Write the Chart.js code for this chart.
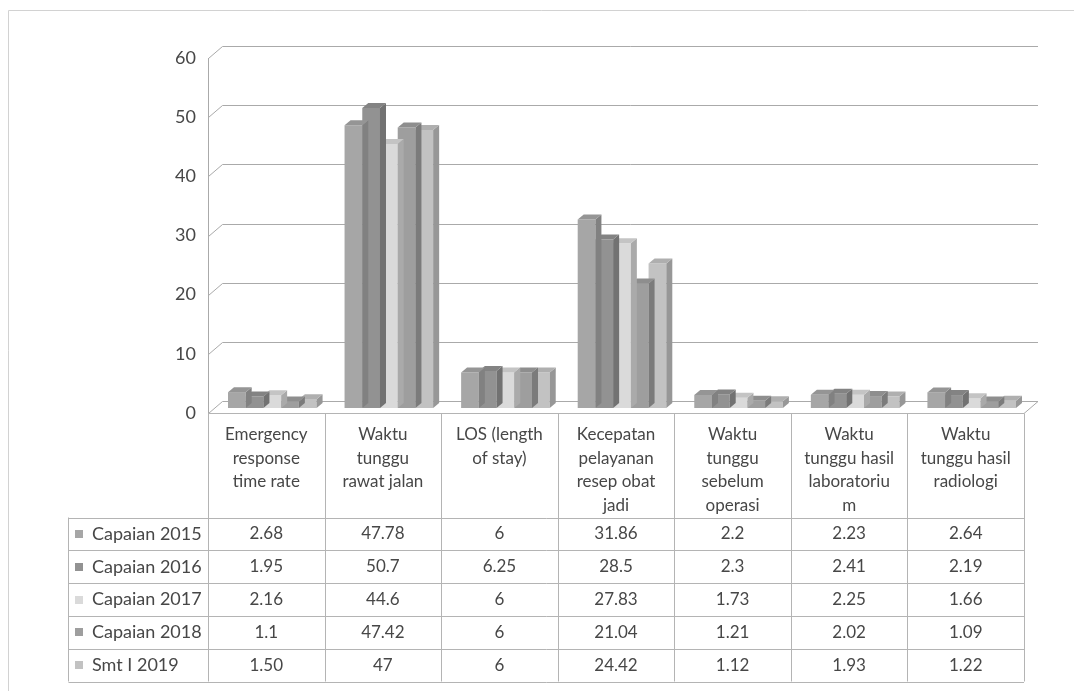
<!DOCTYPE html>
<html>
<head>
<meta charset="utf-8">
<script src="https://cdn.jsdelivr.net/npm/chart.js@4.4.1/dist/chart.umd.min.js"></script>
<style>
  html, body { margin: 0; padding: 0; background: #fff; }
  #wrap { width: 1074px; height: 691px; }
</style>
</head>
<body>
<div id="wrap"><canvas id="waktuChart" width="1074" height="691"></canvas></div>
<script>
// indikator waktu tunggu, per tahun
const categories = [
  ['Emergency', 'response', 'time rate'],
  ['Waktu', 'tunggu', 'rawat jalan'],
  ['LOS (length', 'of stay)'],
  ['Kecepatan', 'pelayanan', 'resep obat', 'jadi'],
  ['Waktu', 'tunggu', 'sebelum', 'operasi'],
  ['Waktu', 'tunggu hasil', 'laboratoriu', 'm'],
  ['Waktu', 'tunggu hasil', 'radiologi']
];
const seriesNames = ['Capaian 2015', 'Capaian 2016', 'Capaian 2017', 'Capaian 2018', 'Smt I 2019'];
const capaian2015 = ['2.68', '47.78', '6', '31.86', '2.2', '2.23', '2.64'];
const capaian2016 = ['1.95', '50.7', '6.25', '28.5', '2.3', '2.41', '2.19'];
const capaian2017 = ['2.16', '44.6', '6', '27.83', '1.73', '2.25', '1.66'];
const capaian2018 = ['1.1', '47.42', '6', '21.04', '1.21', '2.02', '1.09'];
const smt2019 = ['1.50', '47', '6', '24.42', '1.12', '1.93', '1.22'];
const yTicks = [0, 10, 20, 30, 40, 50, 60];

const seriesValues = [capaian2015, capaian2016, capaian2017, capaian2018, smt2019];
const seriesColors = ['#a6a6a6', '#929292', '#dadada', '#9e9e9e', '#c2c2c2'];

const FONT = 'Lato, "Noto Sans", sans-serif';
const TEXT = '#474747';
const LINE = '#aaaaaa';

const WALL_DX = 14, WALL_DY = 12;   // depth of the back wall
const BAR_DX = 6, BAR_DY = 5;       // depth of each column
const BAR_SHIFT_X = 6, BAR_SHIFT_Y = -5;

function shade(hex, f) {
  const n = parseInt(hex.slice(1), 16);
  const c = [(n >> 16) & 255, (n >> 8) & 255, n & 255].map(v => Math.round(v * f));
  return `rgb(${c[0]},${c[1]},${c[2]})`;
}

function line(ctx, x1, y1, x2, y2) {
  ctx.beginPath();
  ctx.moveTo(x1, y1);
  ctx.lineTo(x2, y2);
  ctx.stroke();
}

// back wall, left wall and floor outline
const walls3d = {
  id: 'walls3d',
  beforeDatasetsDraw(chart) {
    const { ctx, chartArea: a, scales: { y } } = chart;
    ctx.save();
    ctx.strokeStyle = LINE;
    ctx.lineWidth = 1;
    const left = Math.round(a.left) + 0.5;
    line(ctx, left, y.getPixelForValue(yTicks[yTicks.length - 1]), left, a.bottom);
    yTicks.forEach(v => {
      const py = Math.round(y.getPixelForValue(v)) + 0.5;
      ctx.beginPath();
      ctx.moveTo(left, py);
      ctx.lineTo(left + WALL_DX, py - WALL_DY);
      ctx.lineTo(a.right + WALL_DX, py - WALL_DY);
      if (v === 0) ctx.lineTo(a.right, py);
      ctx.stroke();
    });
    ctx.restore();
  },
  beforeDatasetDraw(chart) {
    chart.ctx.save();
    chart.ctx.translate(BAR_SHIFT_X, BAR_SHIFT_Y);
  },
  afterDatasetDraw(chart, args) {
    const ctx = chart.ctx;
    const color = chart.data.datasets[args.index].backgroundColor;
    args.meta.data.forEach(bar => {
      const { x, y, base, width } = bar.getProps(['x', 'y', 'base', 'width'], true);
      const l = x - width / 2, r = x + width / 2;
      ctx.fillStyle = shade(color, 0.78);
      ctx.beginPath();
      ctx.moveTo(r, y);
      ctx.lineTo(r + BAR_DX, y - BAR_DY);
      ctx.lineTo(r + BAR_DX, base - BAR_DY);
      ctx.lineTo(r, base);
      ctx.closePath();
      ctx.fill();
      ctx.fillStyle = shade(color, 0.9);
      ctx.beginPath();
      ctx.moveTo(l, y);
      ctx.lineTo(r, y);
      ctx.lineTo(r + BAR_DX, y - BAR_DY);
      ctx.lineTo(l + BAR_DX, y - BAR_DY);
      ctx.closePath();
      ctx.fill();
    });
    ctx.restore();
  }
};

// data table under the plot
const dataTable = {
  id: 'dataTable',
  afterDraw(chart) {
    const { ctx, chartArea: a, scales: { x } } = chart;
    const n = categories.length;
    const colW = (a.right - a.left) / n;
    const headTop = Math.round(a.bottom) + 0.5;
    const headBottom = 517.5;
    const rowH = 32.8;
    const legendLeft = 68.5;
    const tableBottom = headBottom + rowH * seriesNames.length;

    ctx.save();
    ctx.strokeStyle = '#b4b4b4';
    ctx.lineWidth = 1;
    line(ctx, a.left, headTop, a.right, headTop);
    for (let i = 0; i <= n; i++) {
      const px = Math.round(a.left + i * colW) + 0.5;
      line(ctx, px, headTop, px, tableBottom);
    }
    line(ctx, legendLeft, headBottom, legendLeft, tableBottom);
    for (let r = 0; r <= seriesNames.length; r++) {
      const py = Math.round(headBottom + r * rowH) + 0.5;
      line(ctx, legendLeft, py, a.right, py);
    }

    ctx.fillStyle = TEXT;
    ctx.font = `17px ${FONT}`;
    ctx.textAlign = 'center';
    ctx.textBaseline = 'middle';
    categories.forEach((lines, i) => {
      const cx = x.getPixelForValue(i);
      lines.forEach((t, k) => ctx.fillText(t, cx, 435 + k * 23.5));
    });

    seriesNames.forEach((name, s) => {
      const cy = headBottom + rowH * (s + 0.5);
      ctx.fillStyle = seriesColors[s];
      ctx.fillRect(75, Math.round(cy) - 4, 8, 8);
      ctx.fillStyle = TEXT;
      ctx.textAlign = 'left';
      ctx.font = `18px ${FONT}`;
      ctx.fillText(name, 92, cy);
      ctx.textAlign = 'center';
      ctx.font = `17px ${FONT}`;
      seriesValues[s].forEach((v, i) => ctx.fillText(v, x.getPixelForValue(i), cy));
    });
    ctx.restore();
  }
};

// thin frame around the chart
const frame = {
  id: 'frame',
  beforeDraw(chart) {
    const ctx = chart.ctx;
    ctx.save();
    ctx.fillStyle = '#fff';
    ctx.fillRect(0, 0, chart.width, chart.height);
    ctx.strokeStyle = '#d2d2d2';
    ctx.lineWidth = 1;
    ctx.beginPath();
    ctx.moveTo(8.5, chart.height);
    ctx.lineTo(8.5, 10.5);
    ctx.lineTo(chart.width, 10.5);
    ctx.stroke();
    ctx.restore();
  }
};

new Chart(document.getElementById('waktuChart'), {
  type: 'bar',
  data: {
    labels: categories,
    datasets: seriesNames.map((name, s) => ({
      label: name,
      data: seriesValues[s].map(Number),
      backgroundColor: seriesColors[s],
      borderWidth: 0,
      categoryPercentage: 0.76,
      barPercentage: 1.0
    }))
  },
  options: {
    responsive: false,
    animation: false,
    devicePixelRatio: 1,
    layout: { padding: { left: 0, top: 58, right: 50, bottom: 278 } },
    plugins: {
      legend: { display: false },
      tooltip: { enabled: false }
    },
    scales: {
      x: { display: false },
      y: {
        min: 0,
        max: 60,
        afterFit(scale) { scale.width = 208; },
        afterBuildTicks(scale) { scale.ticks = yTicks.map(v => ({ value: v })); },
        grid: { display: false },
        border: { display: false },
        ticks: {
          padding: 4,
          color: TEXT,
          font: { family: FONT, size: 18 }
        }
      }
    }
  },
  plugins: [frame, walls3d, dataTable]
});
</script>
</body>
</html>
